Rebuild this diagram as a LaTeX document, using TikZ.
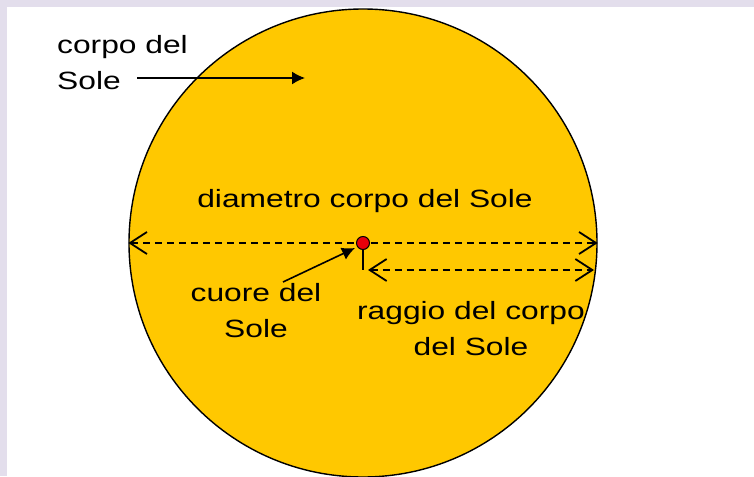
\documentclass[tikz,border=0pt]{standalone}
\usepackage{fontspec}
\setmainfont[FakeStretch=1.27]{Liberation Sans}
\usetikzlibrary{arrows.meta}
\definecolor{solegiallo}{HTML}{FFC800}
\definecolor{cornice}{HTML}{E3DEEC}
\definecolor{cuorerosso}{HTML}{E8000A}

\begin{document}
\begin{tikzpicture}[x=1pt,y=-1pt,
    etichetta/.style={font=\fontsize{25}{36}\selectfont, inner sep=0pt, anchor=base},
    freccia/.style={line width=1.6pt, -{Latex[length=13pt,width=13pt]}},
    quota/.style={line width=1.5pt, dash pattern=on 7pt off 5pt,
        {Straight Barb[length=17pt,width=22pt,line width=1.8pt]}-{Straight Barb[length=17pt,width=22pt,line width=1.8pt]}}]
    % Background and frame
    \useasboundingbox (0,0) rectangle (754,476);
    \fill[cornice] (0,0) rectangle (754,476);
    \fill[white] (7,7) rectangle (754,476);

    % Body of the Sun
    \node[circle, draw, line width=1.4pt, fill=solegiallo, minimum size=468pt, inner sep=0pt] (sole) at (363,243) {};

    % Diameter
    \node[etichetta] (diametro) at (365,207) {diametro corpo del Sole};
    \draw[quota] (sole.west) -- (sole.east);

    % Radius
    \coordinate (piede) at (363,270);
    \coordinate (raggiofine) at (594,270);
    \draw[line width=1.6pt] (363,243) -- (piede);
    \draw[quota] ([xshift=5pt]piede) -- (raggiofine);
    \node[etichetta, align=center] (raggio) at (471,355) {raggio del corpo\\del Sole};

    % Core
    \node[circle, draw, line width=1pt, fill=cuorerosso, minimum size=13pt, inner sep=0pt] (cuore) at (363,243) {};
    \node[etichetta, align=center] (cuoretesto) at (256,337) {cuore del\\Sole};
    \coordinate (cuorecoda) at (283,282);
    \coordinate (cuorepunta) at (355,248);
    \draw[freccia] (cuorecoda) -- (cuorepunta);

    % Label of the body
    \node[etichetta, align=left, anchor=base west] (corpo) at (57,90) {corpo del\\Sole};
    \coordinate (corpocoda) at (137,78);
    \coordinate (corpopunta) at (305,78);
    \draw[freccia] (corpocoda) -- (corpopunta);
\end{tikzpicture}
\end{document}
